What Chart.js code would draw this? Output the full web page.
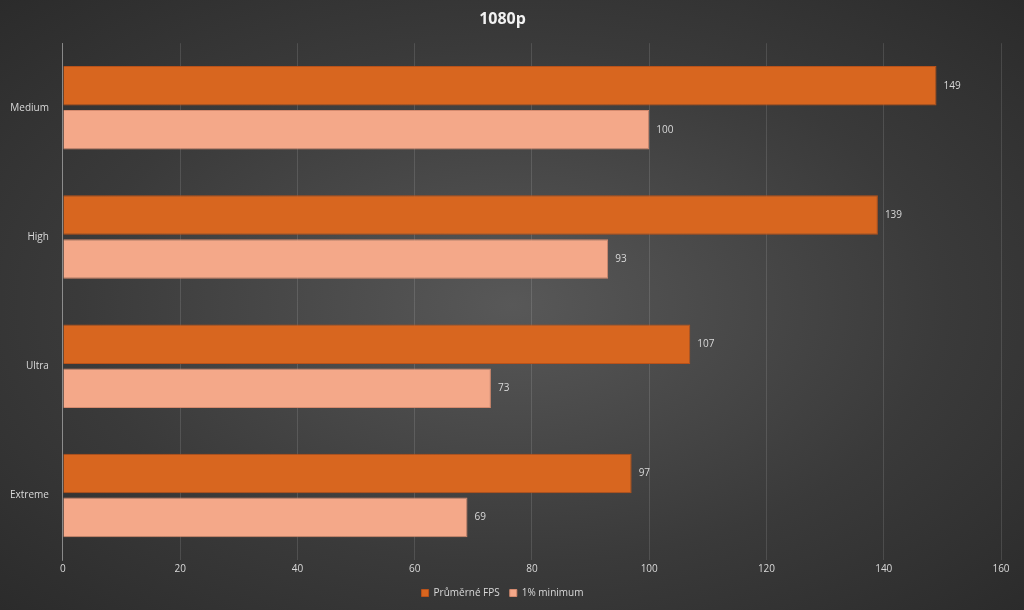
<!DOCTYPE html>
<html>
<head>
<meta charset="utf-8">
<script src="https://cdn.jsdelivr.net/npm/chart.js@4"></script>
<style>
  html, body { margin: 0; padding: 0; }
  body {
    width: 1024px; height: 610px;
    background: radial-gradient(ellipse at center, #585858 0%, #3a3a3a 60%, #2b2b2b 100%);
  }
  #wrap { width: 1024px; height: 610px; }
</style>
</head>
<body>
<div id="wrap"><canvas id="chart"></canvas></div>
<script>
const categories = ["Medium", "High", "Ultra", "Extreme"];
const avgFps = [149, 139, 107, 97];
const minFps = [100, 93, 73, 69];
const seriesNames = ["Průměrné FPS", "1% minimum"];

// value labels at bar ends
const valueLabels = {
    id: "valueLabels",
    afterDatasetsDraw(chart) {
        const ctx = chart.ctx;
        ctx.save();
        ctx.font = "10px 'Open Sans', sans-serif";
        ctx.fillStyle = "#d9d9d9";
        ctx.textBaseline = "middle";
        chart.data.datasets.forEach((ds, i) => {
            chart.getDatasetMeta(i).data.forEach((bar, j) => {
                ctx.fillText(ds.data[j], bar.x + 7, bar.y);
            });
        });
        ctx.restore();
    }
};

new Chart(document.getElementById("chart"), {
    type: "bar",
    data: {
        labels: categories,
        datasets: [
            { label: seriesNames[0], data: avgFps, backgroundColor: "#d8661f", borderColor: "#b9521a", borderWidth: 1 },
            { label: seriesNames[1], data: minFps, backgroundColor: "#f4a889", borderColor: "#d48a6e", borderWidth: 1 }
        ]
    },
    options: {
        indexAxis: "y",
        responsive: true,
        maintainAspectRatio: false,
        animation: false,
        layout: { padding: { left: 4, right: 23, top: 4, bottom: 2 } },
        plugins: {
            title: { display: true, text: "1080p", color: "#f2f2f2", font: { family: "'Open Sans', sans-serif", size: 16, weight: "bold" }, padding: { top: 6, bottom: 14 } },
            legend: {
                position: "bottom",
                labels: { color: "#d9d9d9", boxWidth: 7, boxHeight: 7, font: { family: "'Open Sans', sans-serif", size: 10 } }
            },
            tooltip: { enabled: false }
        },
        datasets: { bar: { categoryPercentage: 0.68, barPercentage: 0.9 } },
        scales: {
            x: {
                min: 0, max: 160,
                ticks: { stepSize: 20, color: "#d9d9d9", font: { family: "'Open Sans', sans-serif", size: 10 } },
                grid: { color: "rgba(255,255,255,0.12)", drawTicks: false },
                border: { display: false }
            },
            y: {
                ticks: { color: "#d9d9d9", font: { family: "'Open Sans', sans-serif", size: 10 }, padding: 6 },
                grid: { display: false },
                border: { color: "rgba(255,255,255,0.35)" }
            }
        }
    },
    plugins: [valueLabels]
});
</script>
</body>
</html>
